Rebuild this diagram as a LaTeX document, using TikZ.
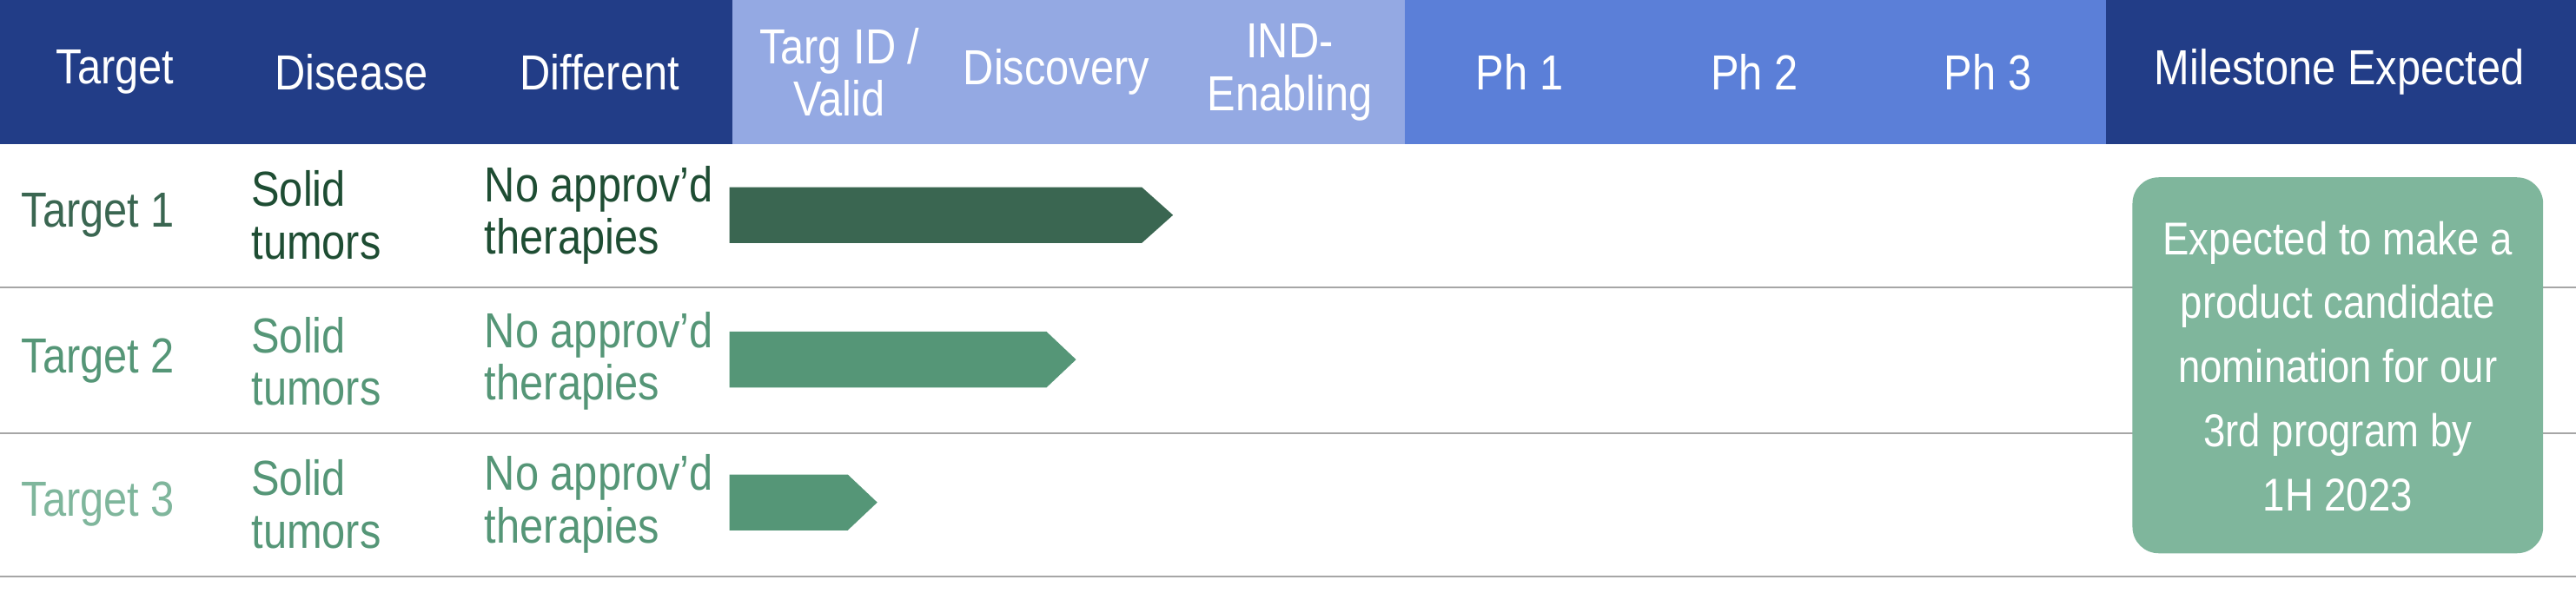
\documentclass[tikz,border=0pt]{standalone}
\usepackage{fontspec}
\setmainfont{Liberation Sans}[FakeStretch=0.86]
\usetikzlibrary{positioning,shapes.arrows,calc}
\definecolor{hdark}{HTML}{223D87}
\definecolor{hlight}{HTML}{94A9E3}
\definecolor{hmid}{HTML}{5B7FD8}
\definecolor{gdark}{HTML}{3A6651}
\definecolor{gtext}{HTML}{1E4D33}
\definecolor{gmid}{HTML}{559677}
\definecolor{glight}{HTML}{7FB69C}
\tikzset{
  hdr/.style={text=white,font=\fontsize{15}{16}\selectfont,align=center},
  cell/.style={anchor=west,font=\fontsize{15}{16}\selectfont,align=left},
  bar/.style={fill=#1,draw=none},
  rowline/.style={draw=gray!70,line width=0.6pt}
}
\begin{document}
\begin{tikzpicture}[x=0.5pt,y=-0.5pt]
\useasboundingbox (0,0) rectangle (1568,361);
% header bands
\fill[hdark] (0,0) rectangle (446,88);
\fill[hlight] (446,0) rectangle (855,88);
\fill[hmid] (855,0) rectangle (1282,88);
\fill[hdark] (1282,0) rectangle (1568,88);
\node[hdr] (h1) at (70,44) {Target};
\node[hdr] (h2) at (214,44) {Disease};
\node[hdr] (h3) at (365,44) {Different};
\node[hdr] (h4) at (511,44) {Targ ID /\\Valid};
\node[hdr] (h5) at (643,44) {Discovery};
\node[hdr] (h6) at (785,44) {IND-\\Enabling};
\node[hdr] (h7) at (925,44) {Ph 1};
\node[hdr] (h8) at (1068,44) {Ph 2};
\node[hdr] (h9) at (1210,44) {Ph 3};
\node[hdr] (h10) at (1424,44) {Milestone Expected};
% row lines
\draw[rowline] (0,175) -- (1568,175);
\draw[rowline] (0,264) -- (1568,264);
\draw[rowline] (0,351) -- (1568,351);
% rows
\node[cell,text=gdark] (t1) at (6,131) {Target 1};
\node[cell,text=gtext] (d1) at (146,131) {Solid\\tumors};
\node[cell,text=gtext] (f1) at (288,131) {No approv’d\\therapies};
\node[cell,text=gmid] (t2) at (6,220) {Target 2};
\node[cell,text=gmid] (d2) at (146,220) {Solid\\tumors};
\node[cell,text=gmid] (f2) at (288,220) {No approv’d\\therapies};
\node[cell,text=glight] (t3) at (6,307) {Target 3};
\node[cell,text=gmid] (d3) at (146,307) {Solid\\tumors};
\node[cell,text=gmid] (f3) at (288,307) {No approv’d\\therapies};
% progress bars
\fill[bar=gdark] (444,114) -- (695,114) -- (714,131) -- (695,148) -- (444,148) -- cycle;
\fill[bar=gmid] (444,202) -- (637,202) -- (655,219) -- (637,236) -- (444,236) -- cycle;
\fill[bar=gmid] (444,289) -- (516,289) -- (534,306) -- (516,323) -- (444,323) -- cycle;
% milestone
\fill[glight,rounded corners=8pt] (1298,108) rectangle (1548,337);
\node[hdr,font=\fontsize{14}{19.5}\selectfont] (ms) at (1423,223)
  {Expected to make a\\product candidate\\nomination for our\\3rd program by\\1H 2023};
\end{tikzpicture}
\end{document}
